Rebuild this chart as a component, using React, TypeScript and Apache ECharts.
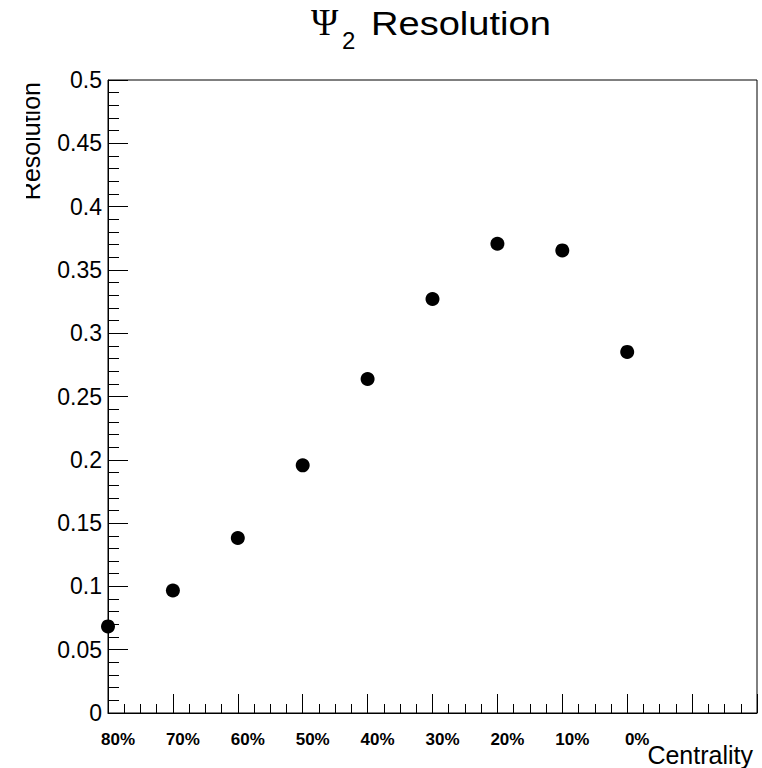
import React, { useEffect, useRef } from "react";
import * as echarts from "echarts";

// Centrality classes, from peripheral to central
const centralityLabels: string[] = ["80%", "70%", "60%", "50%", "40%", "30%", "20%", "10%", "0%"];
// Event-plane resolution for the second harmonic, one value per centrality class
const resolution: number[] = [0.0684, 0.0968, 0.1382, 0.1956, 0.2638, 0.327, 0.3707, 0.3654, 0.2852];

const SANS = "'Liberation Sans', Arial, Helvetica, sans-serif";

export default function App() {
  const ref = useRef<HTMLDivElement>(null);

  useEffect(() => {
    if (!ref.current) return;
    const chart = echarts.init(ref.current, null, { renderer: "svg" });

    const points = resolution.map((v, i) => [i, v]);

    chart.setOption({
      animation: false,
      backgroundColor: "#ffffff",
      grid: {
        left: 108,
        top: 80,
        width: 649,
        height: 633,
        show: true,
        borderColor: "#000",
        borderWidth: 1,
        backgroundColor: "transparent",
        containLabel: false,
      },
      xAxis: {
        type: "value",
        min: 0,
        max: 10,
        interval: 1,
        splitLine: { show: false },
        axisLine: { show: true, onZero: false, lineStyle: { color: "#000", width: 1 } },
        axisTick: { show: true, inside: true, length: 19, lineStyle: { color: "#000", width: 1 } },
        minorTick: { show: true, splitNumber: 4, length: 9, lineStyle: { color: "#000", width: 1 } },
        minorSplitLine: { show: false },
        axisLabel: {
          show: true,
          margin: 18,
          fontFamily: SANS,
          fontWeight: "bold",
          fontSize: 17,
          color: "#000",
          padding: [0, 0, 0, 20],
          formatter: (v: number) => centralityLabels[Math.round(v)] ?? "",
        },
      },
      yAxis: {
        type: "value",
        min: 0,
        max: 0.5,
        interval: 0.05,
        splitLine: { show: false },
        axisLine: { show: true, onZero: false, lineStyle: { color: "#000", width: 1 } },
        axisTick: { show: true, inside: true, length: 20, lineStyle: { color: "#000", width: 1 } },
        minorTick: { show: true, splitNumber: 5, length: 11, lineStyle: { color: "#000", width: 1 } },
        minorSplitLine: { show: false },
        axisLabel: {
          show: true,
          margin: 6,
          fontFamily: SANS,
          fontSize: 23,
          color: "#000",
          formatter: (v: number) => String(Math.round(v * 100) / 100),
        },
      },
      series: [
        {
          type: "scatter",
          data: points,
          symbol: "circle",
          symbolSize: 14,
          clip: false,
          itemStyle: { color: "#000", opacity: 1 },
        },
      ],
      graphic: [
        // Title: Psi with subscript 2
        {
          type: "text",
          x: 311,
          y: 4,
          style: { text: "\u03A8", fontFamily: "'Liberation Serif', 'DejaVu Serif', serif", fontSize: 37, fill: "#000" },
        },
        {
          type: "text",
          x: 342,
          y: 28,
          style: { text: "2", fontFamily: SANS, fontSize: 24, fill: "#000" },
        },
        {
          type: "text",
          x: 371,
          y: 6,
          scaleX: 1.12,
          style: { text: "Resolution", fontFamily: SANS, fontSize: 34, fill: "#000" },
        },
        // Axis titles
        {
          type: "text",
          x: 753,
          y: 742,
          style: { text: "Centrality", fontFamily: SANS, fontSize: 25, fill: "#000", align: "right", verticalAlign: "top" },
        },
        {
          type: "text",
          x: 31,
          y: 82,
          rotation: Math.PI / 2,
          style: { text: "Resolution", fontFamily: SANS, fontSize: 25, fill: "#000", align: "right", verticalAlign: "middle" },
        },
        // pad edge trimming the rotated title
        {
          type: "rect",
          shape: { x: 0, y: 70, width: 26, height: 150 },
          style: { fill: "#ffffff" },
          z: 100,
        },
      ],
    });

    return () => chart.dispose();
  }, []);

  return <div ref={ref} style={{ width: 762, height: 768, position: "absolute", left: 0, top: 0 }} />;
}
